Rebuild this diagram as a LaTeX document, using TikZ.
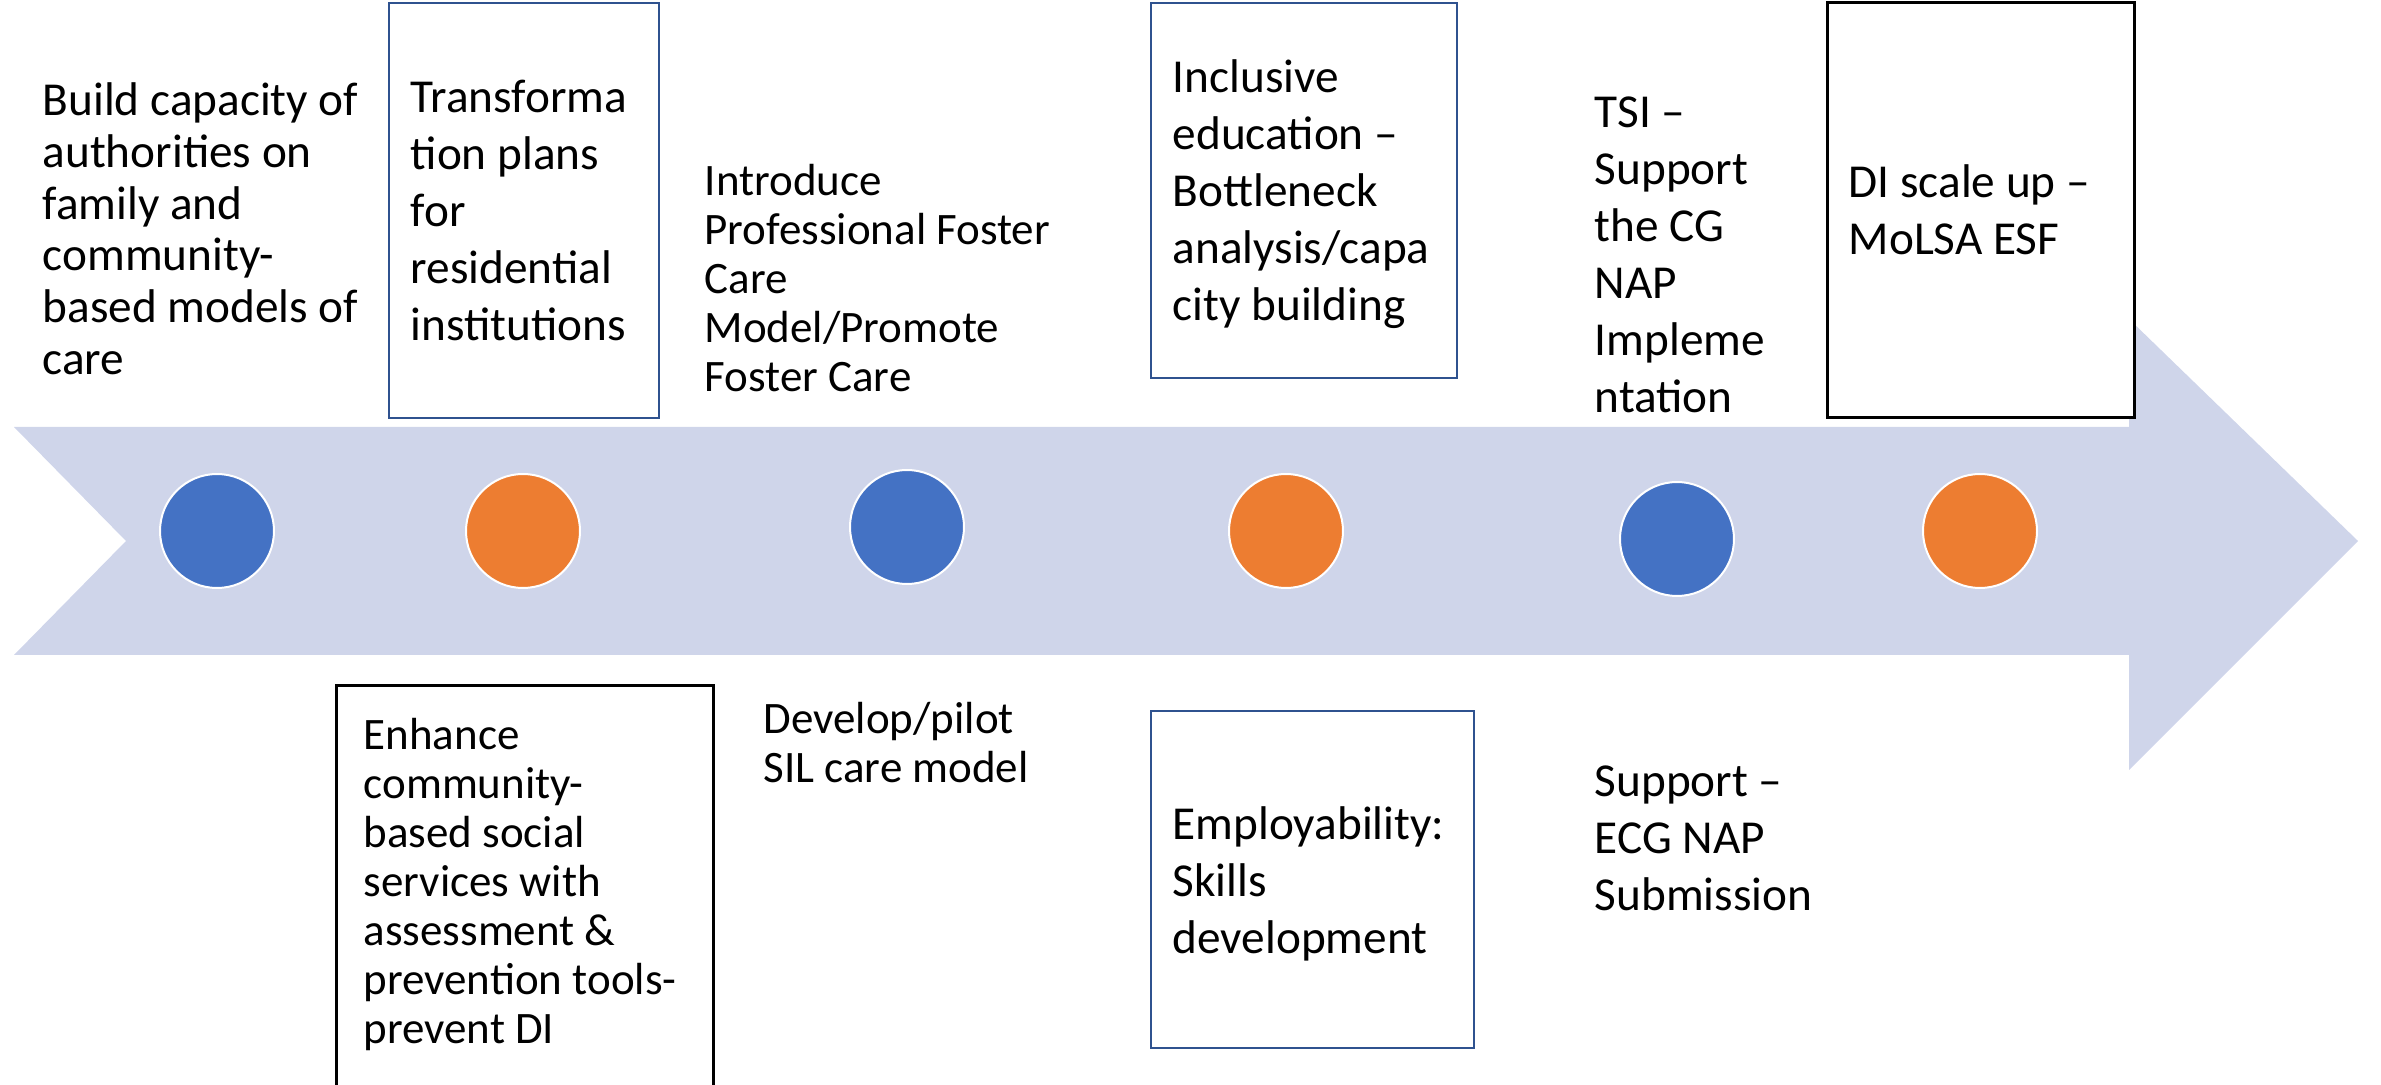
\documentclass[tikz,border=0pt]{standalone}
\usepackage{fontspec}
\setmainfont{Carlito}
\usepackage{tikz}
\definecolor{bandfill}{RGB}{207,213,234}
\definecolor{dotblue}{RGB}{68,114,196}
\definecolor{dotorange}{RGB}{237,125,49}
\definecolor{boxblue}{RGB}{47,82,143}

\begin{document}
\begin{tikzpicture}[x=0.1mm, y=-0.1mm,
    dot/.style={circle, minimum size=11.4mm, inner sep=0pt, draw=white, line width=0.2mm},
    bluebox/.style={draw=boxblue, line width=0.25mm, fill=white},
    blackbox/.style={draw=black, line width=0.3mm, fill=white},
    note/.style={anchor=north west, inner sep=0pt, align=left, font=\fontsize{13.45}{16.2}\selectfont},
    notetight/.style={note, font=\fontsize{13.45}{14.7}\selectfont},
    notesmall/.style={note, font=\fontsize{12.8}{13.9}\selectfont}]
    \useasboundingbox (0,0) rectangle (2381,1085);

    % Timeline band
    \fill[bandfill] (14,427) -- (2129,427) -- (2129,319) -- (2358,541)
        -- (2129,770) -- (2129,655) -- (14,655) -- (126,541) -- cycle;

    % Milestone dots
    \node[dot, fill=dotblue] (dotA) at (217,531) {};
    \node[dot, fill=dotorange] (dotB) at (523,531) {};
    \node[dot, fill=dotblue] (dotC) at (907,527) {};
    \node[dot, fill=dotorange] (dotD) at (1286,531) {};
    \node[dot, fill=dotblue] (dotE) at (1677,539) {};
    \node[dot, fill=dotorange] (dotF) at (1980,531) {};

    % Frames
    \draw[bluebox] (389,3) rectangle (659,418);
    \draw[blackbox] (336,686) rectangle (713,1100);
    \draw[bluebox] (1151,3) rectangle (1457,378);
    \draw[bluebox] (1151,711) rectangle (1474,1048);
    \draw[blackbox] (1827,3) rectangle (2134,418);

    % Upper labels
    \node[notetight] (build) at (42,79) {\strut Build capacity of\\authorities on\\family and\\community-\\based models of\\care};
    \node[note] (transf) at (410,72) {\strut Transforma\\tion plans\\for\\residential\\institutions};
    \node[notesmall] (introduce) at (704,161) {\strut Introduce\\Professional Foster\\Care\\Model/Promote\\Foster Care};
    \node[note] (inclusive) at (1172,52) {\strut Inclusive\\education –\\Bottleneck\\analysis/capa\\city building};
    \node[note] (tsi) at (1594,87) {\strut TSI –\\Support\\the CG\\NAP\\Impleme\\ntation};
    \node[note] (discale) at (1848,157) {\strut DI scale up –\\MoLSA ESF};

    % Lower labels
    \node[notesmall] (enhance) at (363,715) {\strut Enhance\\community-\\based social\\services with\\assessment \&\\prevention tools-\\prevent DI};
    \node[notesmall] (develop) at (763,699) {\strut Develop/pilot\\SIL care model};
    \node[note] (employ) at (1172,799) {\strut Employability:\\Skills\\development};
    \node[note] (support) at (1594,756) {\strut Support –\\ECG NAP\\Submission};
\end{tikzpicture}
\end{document}
